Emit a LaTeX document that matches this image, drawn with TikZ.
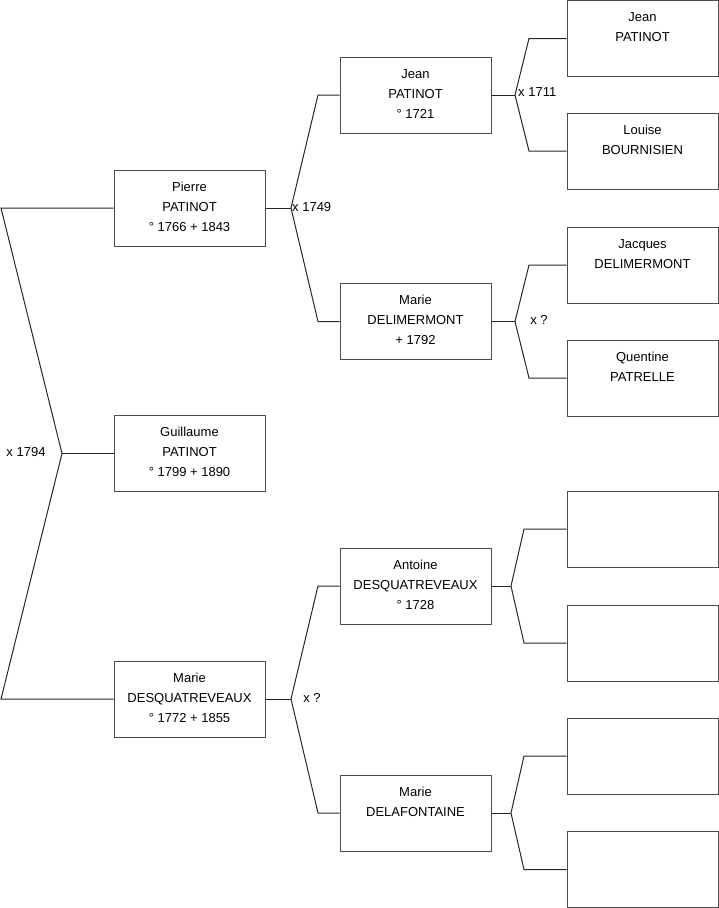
\documentclass[tikz,border=0pt]{standalone}
\usepackage{fontspec}
\setmainfont{Liberation Sans}
\usetikzlibrary{positioning}

% person card: text hangs from the top of the box
\newcommand{\fiche}[1]{\parbox[c][76pt][t]{151pt}{\centering\rule{0pt}{21pt}#1}}

\begin{document}
\begin{tikzpicture}[
  x=1pt, y=-1pt,
  box/.style={rectangle, draw=black!70, line width=1pt, minimum width=151pt,
              minimum height=76pt, inner sep=0pt,
              font=\fontsize{13}{20}\selectfont},
  link/.style={draw=black!85, line width=1pt},
  union/.style={inner sep=0pt, font=\fontsize{13}{15}\selectfont}
]
\useasboundingbox (0,0) rectangle (719,908);

% Generation 1 (child and parents)
\node[box] (pierre)    at (189.5,208)   {\fiche{Pierre\\PATINOT\\° 1766 + 1843}};
\node[box] (guillaume) at (189.5,453.5) {\fiche{Guillaume\\PATINOT\\° 1799 + 1890}};
\node[box] (marieq)    at (189.5,699)   {\fiche{Marie\\DESQUATREVEAUX\\° 1772 + 1855}};

% Generation 2
\node[box] (jean)     at (415.5,95)    {\fiche{Jean\\PATINOT\\° 1721}};
\node[box] (mariedel) at (415.5,321.5) {\fiche{Marie\\DELIMERMONT\\+ 1792}};
\node[box] (antoine)  at (415.5,586)   {\fiche{Antoine\\DESQUATREVEAUX\\° 1728}};
\node[box] (mariedf)  at (415.5,813)   {\fiche{Marie\\DELAFONTAINE}};

% Generation 3
\node[box] (jeanp)    at (642.5,38.5) {\fiche{Jean\\PATINOT}};
\node[box] (louise)   at (642.5,151)  {\fiche{Louise\\BOURNISIEN}};
\node[box] (jacques)  at (642.5,265)  {\fiche{Jacques\\DELIMERMONT}};
\node[box] (quentine) at (642.5,378)  {\fiche{Quentine\\PATRELLE}};
\node[box] (antp)     at (642.5,529)  {};
\node[box] (antm)     at (642.5,643)  {};
\node[box] (dfp)      at (642.5,756)  {};
\node[box] (dfm)      at (642.5,869.5) {};

% Junction points
\coordinate (m0) at (62,453.5);
\coordinate (m0a) at (1,208);
\coordinate (m0b) at (1,699);
\coordinate (m1) at (291,208);
\coordinate (m1a) at (318,95);
\coordinate (m1b) at (318,321.5);
\coordinate (m2) at (291,699);
\coordinate (m2a) at (318,586);
\coordinate (m2b) at (318,813);
\coordinate (m3) at (515,95);
\coordinate (m3a) at (529,38.5);
\coordinate (m3b) at (529,151);
\coordinate (m4) at (515,321.5);
\coordinate (m4a) at (529,265);
\coordinate (m4b) at (529,378);
\coordinate (m5) at (511,586);
\coordinate (m5a) at (524,529);
\coordinate (m5b) at (524,643);
\coordinate (m6) at (511,813);
\coordinate (m6a) at (524,756);
\coordinate (m6b) at (524,869.5);

% Links
\draw[link] (guillaume.west) -- (m0);
\draw[link] (pierre.west) -- (m0a) -- (m0);
\draw[link] (marieq.west) -- (m0b) -- (m0);

\draw[link] (pierre.east) -- (m1);
\draw[link] (jean.west) -- (m1a) -- (m1) -- (m1b) -- (mariedel.west);
\draw[link] (marieq.east) -- (m2);
\draw[link] (antoine.west) -- (m2a) -- (m2) -- (m2b) -- (mariedf.west);

\draw[link] (jean.east) -- (m3);
\draw[link] (jeanp.west) -- (m3a) -- (m3) -- (m3b) -- (louise.west);
\draw[link] (mariedel.east) -- (m4);
\draw[link] (jacques.west) -- (m4a) -- (m4) -- (m4b) -- (quentine.west);
\draw[link] (antoine.east) -- (m5);
\draw[link] (antp.west) -- (m5a) -- (m5) -- (m5b) -- (antm.west);
\draw[link] (mariedf.east) -- (m6);
\draw[link] (dfp.west) -- (m6a) -- (m6) -- (m6b) -- (dfm.west);

% Marriages
\node[union] (x0) at (26,452) {x 1794};
\node[union, anchor=west] (x1) at (292,207) {x 1749};
\node[union] (x2) at (312,698) {x ?};
\node[union, anchor=west] (x3) at (518,92) {x 1711};
\node[union] (x4) at (539,320) {x ?};

\end{tikzpicture}
\end{document}
